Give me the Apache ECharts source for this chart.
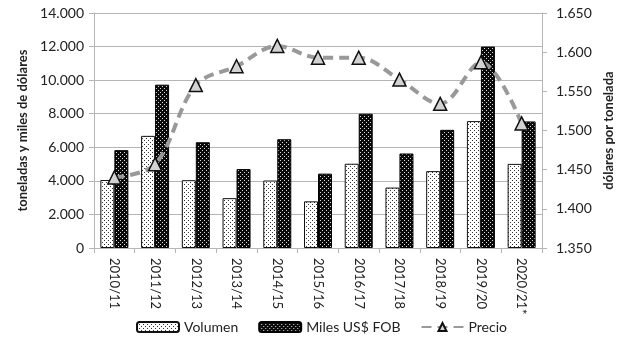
<!DOCTYPE html>
<html><head><meta charset="utf-8">
<script src="https://cdn.jsdelivr.net/npm/echarts@6/dist/echarts.min.js"></script>
<style>html,body{margin:0;padding:0;background:#fff}#c{width:644px;height:344px}</style>
</head><body><div id="c"></div>
<script>
const categories = ['2010/11','2011/12','2012/13','2013/14','2014/15','2015/16','2016/17','2017/18','2018/19','2019/20','2020/21*'];
const volumen = [4050, 6680, 4040, 2970, 4020, 2780, 5020, 3600, 4580, 7560, 5010];
const milesFob = [5830, 9730, 6300, 4700, 6480, 4430, 8000, 5630, 7040, 12000, 7540];
const precio = [1440, 1457, 1558, 1582, 1608, 1593, 1593, 1565, 1534, 1587, 1509];

function makePattern(bg, dot) {
  const c = document.createElement('canvas');
  c.width = 4; c.height = 4;
  const g = c.getContext('2d');
  g.fillStyle = bg; g.fillRect(0, 0, 4, 4);
  g.fillStyle = dot;
  g.fillRect(0, 0, 1, 1);
  g.fillRect(2, 2, 1, 1);
  return { image: c, repeat: 'repeat' };
}
function fmt(v) {
  const s = String(Math.round(v));
  return s.replace(/\B(?=(\d{3})+(?!\d))/g, '.');
}
const font = 'Lato, "Open Sans", sans-serif';
const chart = echarts.init(document.getElementById('c'));
chart.setOption({
  animation: false,
  textStyle: { fontFamily: font },
  grid: { left: 94, right: 102, top: 13, bottom: 96 },
  legend: {
    bottom: 5, left: 131, itemGap: 20, itemWidth: 42, itemHeight: 10,
    textStyle: { fontSize: 14, color: '#222', fontFamily: font },
    data: ['Volumen', 'Miles US$ FOB', 'Precio']
  },
  xAxis: {
    type: 'category', data: categories,
    axisLine: { lineStyle: { color: '#b5b5b5' } },
    axisTick: { show: true, alignWithLabel: false, length: 5, lineStyle: { color: '#b5b5b5' } },
    axisLabel: { rotate: -90, fontSize: 13, color: '#222', margin: 10, fontFamily: font }
  },
  yAxis: [{
    type: 'value', min: 0, max: 14000, interval: 2000,
    name: 'toneladas y miles de dólares', nameLocation: 'middle', nameGap: 62,
    nameTextStyle: { fontSize: 13, fontWeight: 'bold', color: '#222', fontFamily: font },
    axisLine: { show: true, lineStyle: { color: '#b5b5b5' } },
    axisTick: { show: true, length: 5, lineStyle: { color: '#b5b5b5' } },
    axisLabel: { fontSize: 14, color: '#222', margin: 10, formatter: fmt, fontFamily: font },
    splitLine: { lineStyle: { color: '#b5b5b5', width: 1.2 } }
  }, {
    type: 'value', min: 1350, max: 1650, interval: 50,
    name: 'dólares por tonelada', nameLocation: 'middle', nameGap: 58,
    nameTextStyle: { fontSize: 13, fontWeight: 'bold', color: '#222', fontFamily: font },
    axisLine: { show: true, lineStyle: { color: '#b5b5b5' } },
    axisTick: { show: true, length: 5, lineStyle: { color: '#b5b5b5' } },
    axisLabel: { fontSize: 14, color: '#222', margin: 14, formatter: fmt, fontFamily: font },
    splitLine: { show: false }
  }],
  series: [{
    name: 'Volumen', type: 'bar', data: volumen, barWidth: 14, barGap: '0%',
    itemStyle: { color: makePattern('#ffffff', '#333333'), borderColor: '#111', borderWidth: 1 }
  }, {
    name: 'Miles US$ FOB', type: 'bar', data: milesFob, barWidth: 14,
    itemStyle: { color: makePattern('#0a0a0a', '#dddddd'), borderColor: '#000', borderWidth: 1 }
  }, {
    name: 'Precio', type: 'line', yAxisIndex: 1, data: precio, smooth: 0.35,
    lineStyle: { color: '#999999', width: 4, type: [10, 6] },
    symbol: 'triangle', symbolSize: 13,
    itemStyle: { color: '#d3d3d3', borderColor: '#111', borderWidth: 1.5 }
  }]
});
</script></body></html>
